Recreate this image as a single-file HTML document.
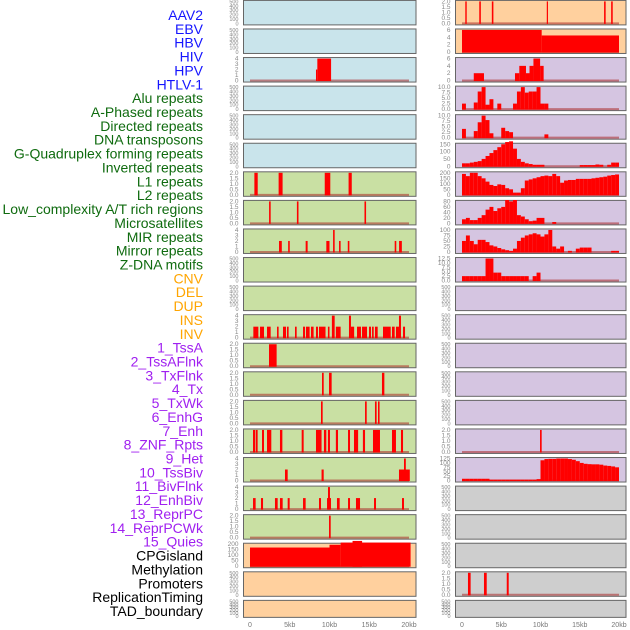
<!DOCTYPE html>
<html><head><meta charset="utf-8"><style>
body{margin:0;background:#fff;width:630px;height:630px;overflow:hidden;font-family:"Liberation Sans",sans-serif}
svg{display:block}
</style></head><body>
<svg id="chart" width="630" height="630" xmlns="http://www.w3.org/2000/svg"></svg>
<script>
const labels=["AAV2","EBV","HBV","HIV","HPV","HTLV-1","Alu repeats","A-Phased repeats","Directed repeats","DNA transposons","G-Quadruplex forming repeats","Inverted repeats","L1 repeats","L2 repeats","Low_complexity A/T rich regions","Microsatellites","MIR repeats","Mirror repeats","Z-DNA motifs","CNV","DEL","DUP","INS","INV","1_TssA","2_TssAFlnk","3_TxFlnk","4_Tx","5_TxWk","6_EnhG","7_Enh","8_ZNF_Rpts","9_Het","10_TssBiv","11_BivFlnk","12_EnhBiv","13_ReprPC","14_ReprPCWk","15_Quies","CPGisland","Methylation","Promoters","ReplicationTiming","TAD_boundary"];
const labelGroups=[6,13,5,15,5];
const groupColors=["#1515ff","#0f6b0f","#ffa500","#a020f0","#000000"];
const xTickVals=[0,5,10,15,20];
const xTickLabels=["0","5kb","10kb","15kb","20kb"];
const col1Bg=["b","b","b","b","b","b","g","g","g","g","g","g","g","g","g","g","g","g","g","o","o","o"];
const col2Bg=["o","o","p","p","p","p","p","p","p","p","p","p","p","p","p","p","p","x","x","x","x","x"];
const col1Max=[500,500,4,500,500,500,2,2,4,500,500,4,2,2,2,2,4,4,2,200,500,500];
const col2Max=[2,6,6,10,10,150,200,80,100,12.5,500,500,500,500,500,2,125,500,500,500,2,500];
const col1Segs={
2:[[8.3,8.47,2],[8.47,10.2,4]],
6:[[0.55,0.97,2],[3.6,4.1,2],[9.4,10.1,2],[12.4,12.8,2]],
7:[[2.4,2.6,2],[5.9,6.1,2],[14.4,14.6,2]],
8:[[3.65,4,2],[4.8,5,2],[7,7.25,2],[9.6,10,2],[10.45,10.65,4],[11.2,11.4,2],[12.3,12.5,2],[18.2,18.4,2],[18.75,19.1,2]],
11:[[0.42,1.05,2],[1.26,1.76,2],[2.14,2.6,2],[3.4,3.6,2],[4.15,4.53,2],[4.65,4.86,2],[5.66,5.87,2],[6.67,6.92,2],[7.04,7.5,2],[7.67,8,2],[8.3,8.55,2],[8.68,9.5,2],[9.8,10,2],[10.3,10.65,4],[10.8,11.4,2],[12.45,12.7,4],[12.7,13.1,2],[13.46,13.96,2],[14.09,14.72,2],[14.97,15.22,2],[15.35,15.56,2],[15.72,16.06,2],[16.73,17.7,2],[17.86,18.2,2],[18.36,18.74,2],[18.74,18.99,4],[19.25,19.5,2]],
12:[[2.39,3.35,2]],
13:[[9.06,9.27,2],[9.94,10.27,2],[16.6,16.9,2]],
14:[[8.93,9.14,2],[14.47,14.68,2],[15.72,15.93,2],[16.1,16.3,2]],
15:[[0.38,0.63,2],[0.71,0.96,2],[1.51,1.76,2],[2.14,2.68,2],[3.77,4.07,2],[6.5,6.75,2],[8.3,9,2],[9.3,9.6,2],[9.8,10.06,2],[10.8,11.07,2],[12.33,12.58,2],[13.08,13.6,2],[14.2,14.47,2],[15.47,16.35,2],[17.86,18.36,2],[18.99,19.25,2]],
16:[[4.4,4.74,2],[9,9.27,2],[18.74,20.1,2],[19.37,19.6,4]],
17:[[0.38,0.71,2],[1.38,1.64,2],[3.14,3.48,2],[3.77,4.11,2],[4.74,4.99,2],[6.67,7,2],[8.68,8.93,2],[9.69,10.19,2],[9.81,10.06,4],[10.94,11.28,2],[12.33,12.58,2],[13.33,13.84,2],[15.6,15.85,2],[19.12,19.37,2]],
18:[[9.94,10.15,2]],
19:[[0,10,170],[10,11.4,195],[11.4,20.2,215],[12.9,14.1,230]]
};
const col2Segs={
0:[[0.42,0.6,2],[2.2,2.4,2],[3.8,4,2],[10.8,10.95,2],[18.1,18.3,2],[19,19.2,2]],
1:[[0,10.15,6],[10.15,20,4.5]],
2:[[1.5,2.8,2],[6.75,7.3,2],[7.3,8.15,4],[8.15,8.6,2],[8.6,9.1,4],[9.1,9.95,6],[9.95,10.4,4]],
15:[[9.94,10.15,2]],
20:[[0.76,1.1,2],[2.8,3.15,2],[5.7,5.95,2]]
};
const alu=[2.5,0,0,3,8,10,2,4.5,0,2.5,0,0,0,2.5,8,10,7.5,8,8,10,2.5,2.5,0,0,0,0,0,0,0,0,0,0,0,0,0,0,0,0,0,0];
const aPhased=[4,0,0,3,7,10,8,2,0,0,4.5,3,2.5,0,0,0,0,0,0,0,0,1.5,0,0,0,0,0,0,0,0,0,0,0,0,0,0,0,0,0,0];
const dnaTrans=[20,20,25,30,35,50,70,90,110,130,150,165,170,120,50,30,20,15,10,10,10,0,0,0,0,0,0,0,0,0,8,8,8,8,12,10,0,10,25,25];
const gQuad=[190,170,200,200,170,150,120,90,80,95,90,60,50,20,20,60,130,140,150,160,170,175,170,190,170,110,130,135,135,145,145,145,145,150,155,160,165,175,180,185];
const inverted=[15,20,12,12,20,30,50,60,45,55,60,85,80,85,30,25,15,8,10,20,20,0,0,5,0,0,0,0,0,0,0,0,0,0,0,0,0,0,0,0];
const l1=[50,75,50,35,55,55,45,30,25,18,12,8,5,15,50,65,75,80,85,80,70,80,100,25,15,25,0,5,0,15,20,20,20,0,0,0,0,0,5,5];
const l2=[2.5,2.5,2.5,2.5,2.5,2.5,12.5,12.5,4.5,4.5,2.5,2.5,2.5,2.5,2.5,2.5,2.5,0,2.5,4.5,0,0,0,0,0,0,0,0,0,0,0,0,0,0,0,0,0,0,0,0];
const tssBiv=[10,10,10,10,10,10,10,5,5,5,5,5,5,5,5,5,5,5,5,8,115,122,123,123,125,125,125,122,118,110,100,95,93,92,92,90,85,83,80,75];
const col2Bins={3:alu,4:aPhased,5:dnaTrans,6:gQuad,7:inverted,8:l1,9:l2,16:tssBiv};

const bgColors={b:"#c9e4eb",g:"#c9e0a3",o:"#ffd09e",p:"#d5c5e1",x:"#cecece"};
const NS="http://www.w3.org/2000/svg";
const svg=document.getElementById('chart');
function mk(tag,attrs,parent){const e=document.createElementNS(NS,tag);for(const k in attrs)e.setAttribute(k,attrs[k]);(parent||svg).appendChild(e);return e;}

let li=0;
labelGroups.forEach((n,g)=>{for(let j=0;j<n;j++){const i=li++;
 const t=mk('text',{x:203,y:15+i*13.86+5,'text-anchor':'end','font-size':14,fill:groupColors[g]});
 
 
 t.textContent=labels[i];}});

function ticksFor(m){
 if(m===500)return [0,100,200,300,400,500];
 if(m===200)return [0,50,100,150,200];
 if(m===150)return [0,50,100,150];
 if(m===125)return [0,25,50,75,100,125];
 if(m===100)return [0,25,50,75,100];
 if(m===80)return [0,20,40,60,80];
 if(m===12.5)return [0,2.5,5,7.5,10,12.5];
 if(m===10)return [0,2.5,5,7.5,10];
 if(m===6)return [0,2,4,6];
 if(m===4)return [0,1,2,3,4];
 return [0,0.5,1,1.5,2];
}
function fmt(v,m){if(m===2||m===10||m===12.5)return v.toFixed(1);return String(v);}

function drawCol(colIdx,px0,px20,left,right,bgs,maxs,segs,bins){
 const xs=kb=>px0+(kb/20)*(px20-px0);
 for(let r=0;r<22;r++){
  const top=0.4+r*28.57, h=(r===21)?17:24.5, bot=top+h;
  const yMax=maxs[r];
  const ys=v=>(bot-1.5)-(v/yMax)*(h-2.5);
  const g=mk('g',{});
  
  
  const bg=mk('rect',{x:left,y:top,width:right-left,height:h,fill:bgColors[bgs[r]],stroke:'#666','stroke-width':1},g);
  
  
  const tks=ticksFor(yMax);
  tks.forEach(v=>{const t=mk('text',{x:left-5,y:ys(v)+2,'text-anchor':'end','font-size':(yMax===500?5.5:6.5),fill:'#888'},g);
   
   
   t.textContent=fmt(v,yMax);});
  let list=[];
  if(segs[r])list=segs[r];
  if(bins&&bins[r])list=bins[r].map((v,i)=>[i*0.5,i*0.5+0.5,v]);
  if(list.length){
   const bl=mk('line',{x1:xs(0),x2:xs(20),y1:ys(0),y2:ys(0),stroke:'rgba(170,40,40,0.55)','stroke-width':2},g);
   
   
   list.forEach(s=>{if(s[2]<=0)return;
    const x1=xs(s[0]),x2=xs(s[1]);const y=ys(s[2]);
    const b=mk('rect',{x:x1,y:y,width:Math.max(1.2,x2-x1),height:ys(0)-y+0.5,fill:'#ff0000'},g);
    
    });
  }
 }
 xTickVals.forEach((v,i)=>{const t=mk('text',{x:xs(v),y:627,'text-anchor':'middle','font-size':7,fill:'#777'});
  
  
  t.textContent=xTickLabels[i];});
}
drawCol(1,250,409,243.5,416,col1Bg,col1Max,col1Segs,null);
drawCol(2,462,619,455.5,626,col2Bg,col2Max,col2Segs,col2Bins);
</script>
</body></html>
